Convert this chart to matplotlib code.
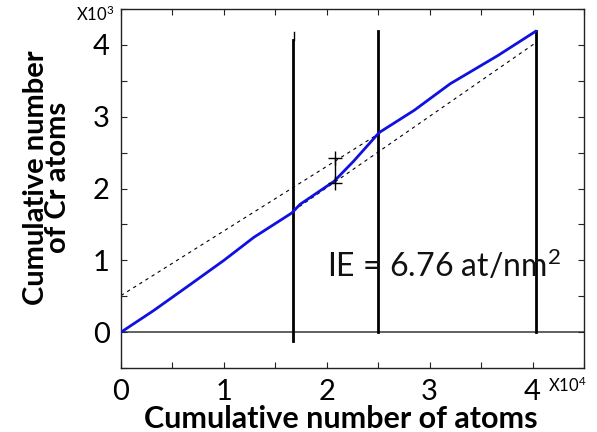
import matplotlib.pyplot as plt
from matplotlib.ticker import MultipleLocator

plt.rcParams["font.family"] = ["Lato", "DejaVu Sans"]
plt.rcParams["mathtext.fontset"] = "custom"
plt.rcParams["mathtext.rm"] = "Lato"
plt.rcParams["mathtext.it"] = "Lato:italic"
plt.rcParams["mathtext.bf"] = "Lato:bold"

# cumulative number of atoms (x10^4) vs cumulative number of Cr atoms (x10^3)
cum_atoms = [0, 0.316, 0.64, 1.0, 1.29, 1.66, 1.74, 2.07, 2.26, 2.49, 2.52, 2.85, 3.20, 3.66, 4.03]
cum_cr = [0, 0.30, 0.63, 1.0, 1.32, 1.66, 1.78, 2.10, 2.38, 2.75, 2.79, 3.09, 3.46, 3.85, 4.19]

# linear fits before / after the interface
fit_before_x = [0, 2.50]
fit_before_y = [0.51, 2.76]
fit_after_x = [1.675, 4.03]
fit_after_y = [1.69, 4.03]

# region boundaries
bound_x = [1.675, 2.50, 4.03]
bound_top = [4.07, 4.19, 4.19]
bound_bottom = [-0.12, 0.0, 0.0]

# excess measurement
excess_x = [2.08, 2.08]
excess_y = [2.08, 2.43]

fig = plt.figure(figsize=(5.97, 4.32), dpi=100, facecolor="white")
ax = fig.add_axes([0.2027, 0.148, 0.7755, 0.831])

ax.axhline(0, color="#555555", lw=1.3, zorder=1)

for x, y0, y1 in zip(bound_x, bound_bottom, bound_top):
    ax.plot([x, x], [y0, y1], color="black", lw=2.0, zorder=3)
ax.plot([bound_x[0] + 0.01, bound_x[0] + 0.01], [bound_top[0], 4.18], color="black", lw=1.0, zorder=3)

ax.plot(fit_before_x, fit_before_y, color="black", lw=0.8, dashes=(3, 3.5), zorder=2)
ax.plot(fit_after_x, fit_after_y, color="black", lw=0.8, dashes=(3, 3.5), zorder=2)

ax.plot(cum_atoms, cum_cr, color="#1010e0", lw=2.0, zorder=4)

ax.plot(excess_x, excess_y, color="black", lw=1.0, marker="+", ms=10, mew=1.0, zorder=5)

ax.text(2.0, 0.92, "IE = 6.76 at/nm$^2$", fontsize=23, ha="left", va="center",
        color="#111111", zorder=6)

ax.set_xlim(0, 4.5)
ax.set_ylim(-0.5, 4.5)
ax.xaxis.set_major_locator(MultipleLocator(1))
ax.xaxis.set_minor_locator(MultipleLocator(0.5))
ax.yaxis.set_major_locator(MultipleLocator(1))
ax.yaxis.set_minor_locator(MultipleLocator(0.5))
ax.tick_params(which="both", direction="in", top=True, right=True, length=4,
               width=0.8, color="#222222", labelsize=21)
ax.tick_params(axis="x", pad=8)
ax.tick_params(axis="y", pad=8)
for s in ax.spines.values():
    s.set_linewidth(1.0)
    s.set_color("#222222")

ax.set_xlabel("Cumulative number of atoms", fontsize=22, fontweight="bold", va="center")
ax.xaxis.set_label_coords(0.475, -0.142)
ax.set_ylabel("Cumulative number\nof Cr atoms", fontsize=21, fontweight="bold",
              va="center", ha="center", linespacing=0.85)
ax.yaxis.set_label_coords(-0.16, 0.53)

fig.text(0.128, 0.967, "X10$^3$", fontsize=12, ha="left", va="center")
fig.text(0.918, 0.107, "X10$^4$", fontsize=12, ha="left", va="center")

fig.savefig("out.png", dpi=100)
